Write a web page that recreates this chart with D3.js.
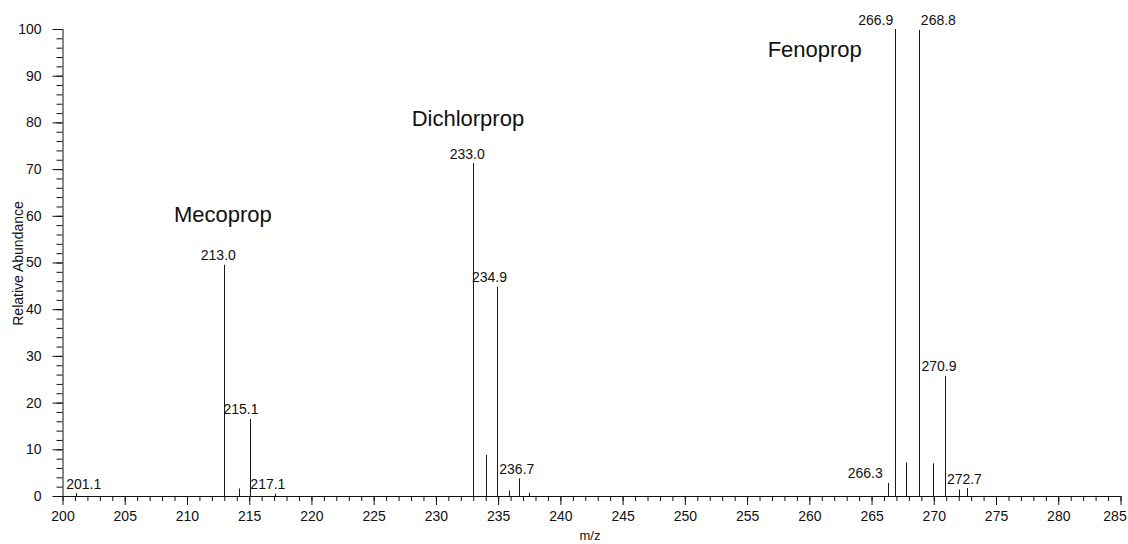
<!DOCTYPE html>
<html>
<head>
<meta charset="utf-8">
<script src="https://cdn.jsdelivr.net/npm/d3@7"></script>
<style>
  html, body { margin: 0; padding: 0; background: #fff; }
  svg { display: block; font-family: "Liberation Sans", Arial, sans-serif; }
</style>
</head>
<body>
<svg id="chart" width="1128" height="544"></svg>
<script>
// Mass spectrum peaks: m/z and relative abundance (%)
const peakMz        = [201.1, 213.0, 214.2, 215.1, 217.1, 233.0, 234.0, 234.9, 235.9, 236.7, 237.5,
                       266.3, 266.9, 267.8, 268.8, 269.9, 270.9, 272.0, 272.7];
const peakAbundance = [0.6, 49.5, 1.6, 16.5, 0.5, 71.3, 8.8, 44.8, 1.2, 3.8, 0.7,
                       2.8, 100, 7.2, 99.8, 7.0, 25.7, 1.4, 1.7];

// Peaks carrying an m/z annotation
const labelledMz = ["201.1", "213.0", "215.1", "217.1", "233.0", "234.9", "236.7",
                    "266.3", "266.9", "268.8", "270.9", "272.7"];

// Compound names and the m/z / abundance they are written at
const compoundNames = ["Mecoprop", "Dichlorprop", "Fenoprop"];
const compoundMz    = [208.95, 228.05, 256.65];
const compoundLevel = [58.7, 79.3, 94.1];

// Axis ticks
const xMajorTicks = d3.range(200, 286, 5);
const xMinorTicks = d3.range(200, 286, 1);
const yMajorTicks = d3.range(0, 101, 10);
const yMinorTicks = d3.range(0, 101, 2);

const svg = d3.select("#chart");
const x = d3.scaleLinear().domain([200, 285]).range([62.5, 1120.5]);
const y = d3.scaleLinear().domain([0, 100]).range([496, 29]);

const ink = "#111";

// x axis: minor ticks, then major ticks with labels
const xMinor = svg.append("g").attr("transform", `translate(0,${y(0)})`)
  .call(d3.axisBottom(x).tickValues(xMinorTicks).tickSize(5).tickFormat(""));
const xMajor = svg.append("g").attr("transform", `translate(0,${y(0)})`)
  .call(d3.axisBottom(x).tickValues(xMajorTicks).tickSize(9).tickPadding(6).tickFormat(d3.format("d")));

// y axis
const yMinor = svg.append("g").attr("transform", `translate(${x(200)},0)`)
  .call(d3.axisLeft(y).tickValues(yMinorTicks).tickSize(6).tickFormat(""));
const yMajor = svg.append("g").attr("transform", `translate(${x(200)},0)`)
  .call(d3.axisLeft(y).tickValues(yMajorTicks).tickSize(10).tickPadding(11).tickFormat(d3.format("d")));

[xMinor, xMajor, yMinor, yMajor].forEach(g => {
  g.selectAll("path").attr("stroke", ink).attr("stroke-width", 1);
  g.selectAll("line").attr("stroke", ink).attr("stroke-width", 1);
  g.selectAll("text").attr("fill", ink).style("font-size", "14px")
    .style("font-family", '"Liberation Sans", Arial, sans-serif');
});
xMinor.select(".domain").attr("d", `M${x(200)},0.5H${x(285)}`);
xMajor.select(".domain").remove();
yMajor.select(".domain").remove();
yMinor.select(".domain").attr("d", `M0.5,${y(100)}V${y(0)}`);

// keep the last x label inside the frame
xMajor.selectAll(".tick text").filter(d => d === 285).attr("dx", -6);

// Axis titles
svg.append("text")
  .attr("transform", `translate(23,${(y(0) + y(100)) / 2 + 1}) rotate(-90)`)
  .attr("text-anchor", "middle")
  .style("font-size", "14px").attr("fill", ink)
  .text("Relative Abundance");
svg.append("text")
  .attr("x", 590).attr("y", 540)
  .attr("text-anchor", "middle")
  .style("font-size", "13px").attr("fill", ink)
  .text("m/z");

// Peak sticks
const peaks = peakMz.map((m, i) => ({ mz: m, ab: peakAbundance[i] }));
svg.append("g").selectAll("line").data(peaks).join("line")
  .attr("x1", d => Math.round(x(d.mz)) + 0.5)
  .attr("x2", d => Math.round(x(d.mz)) + 0.5)
  .attr("y1", y(0))
  .attr("y2", d => y(d.ab))
  .attr("stroke", "#1a1a1a")
  .attr("stroke-width", 1);

// Peak annotations, nudged sideways where neighbours would collide
const labelPlacement = {
  "201.1": ["start", -10], "213.0": ["middle", -6], "215.1": ["start", -27],
  "217.1": ["start", -25], "233.0": ["middle", -6], "234.9": ["start", -25],
  "236.7": ["start", -20], "266.3": ["end", -5],    "266.9": ["end", -2],
  "268.8": ["start", 2],   "270.9": ["middle", -6], "272.7": ["middle", -3]
};
const labelled = labelledMz.map(t => {
  const m = +t;
  const p = peaks.reduce((a, b) => Math.abs(b.mz - m) < Math.abs(a.mz - m) ? b : a);
  return { text: t, mz: p.mz, ab: p.ab };
});
svg.append("g").selectAll("text").data(labelled).join("text")
  .attr("x", d => x(d.mz) + labelPlacement[d.text][1])
  .attr("y", d => y(d.ab) - 4.5)
  .attr("text-anchor", d => labelPlacement[d.text][0])
  .style("font-size", "14px").attr("fill", ink)
  .text(d => d.text);

// Compound names
svg.append("g").selectAll("text").data(compoundNames).join("text")
  .attr("x", (d, i) => x(compoundMz[i]))
  .attr("y", (d, i) => y(compoundLevel[i]))
  .style("font-size", "22px").attr("fill", ink)
  .text(d => d);
</script>
</body>
</html>
